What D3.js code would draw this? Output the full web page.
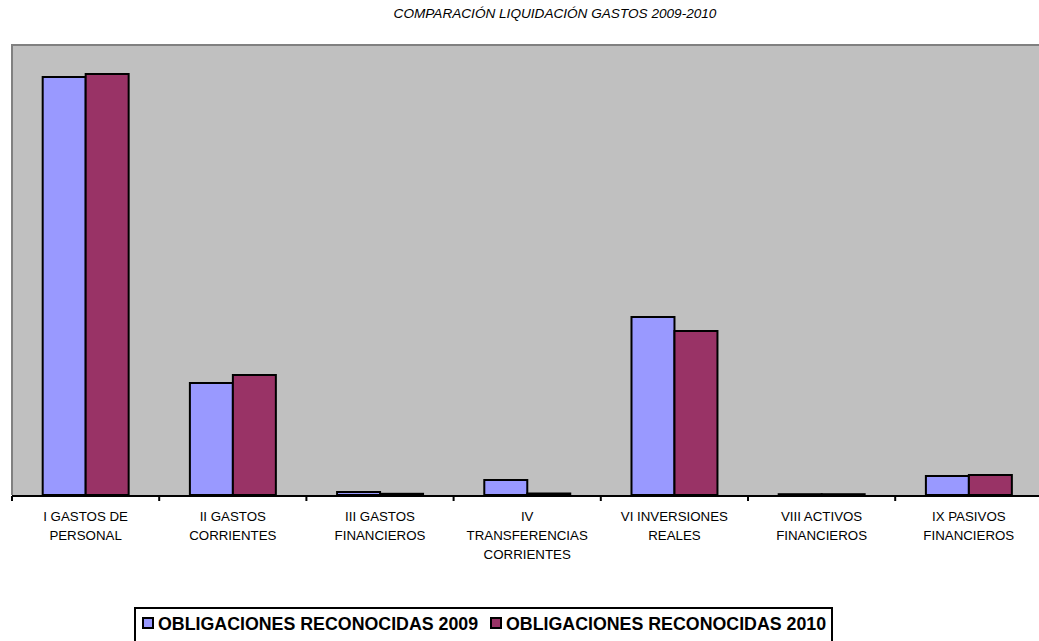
<!DOCTYPE html>
<html>
<head>
<meta charset="utf-8">
<script src="https://cdn.jsdelivr.net/npm/d3@7"></script>
<style>
  html, body { margin: 0; padding: 0; background: #ffffff; }
  svg { display: block; }
</style>
</head>
<body>
<div id="chart"></div>
<script>
// ---- data ----
const categories = [
  ["I GASTOS DE", "PERSONAL"],
  ["II GASTOS", "CORRIENTES"],
  ["III GASTOS", "FINANCIEROS"],
  ["IV", "TRANSFERENCIAS", "CORRIENTES"],
  ["VI INVERSIONES", "REALES"],
  ["VIII ACTIVOS", "FINANCIEROS"],
  ["IX PASIVOS", "FINANCIEROS"]
];
const seriesNames = ["OBLIGACIONES RECONOCIDAS 2009", "OBLIGACIONES RECONOCIDAS 2010"];
const values2009 = [4180, 1120, 30, 150, 1780, 8, 190];
const values2010 = [4210, 1200, 12, 15, 1640, 8, 200];
const seriesColors = ["#9999FF", "#993366"];
const yMax = 4500;
const titleText = "COMPARACIÓN LIQUIDACIÓN GASTOS 2009-2010";

// ---- layout ----
const W = 1039, H = 641;
const plot = { left: 12, top: 45, right: 1042.4, bottom: 495 };

const svg = d3.select("#chart").append("svg")
  .attr("width", W).attr("height", H)
  .style("font-family", "'Liberation Sans', Arial, sans-serif");

const catIdx = categories.map((d, i) => i);
const x = d3.scaleBand().domain(catIdx).range([plot.left, plot.right]).padding(0);
const bw = x.bandwidth();
const xSub = d3.scaleBand().domain([0, 1]).range([bw * 0.2085, bw * 0.7925]).padding(0);
const y = d3.scaleLinear().domain([0, yMax]).range([plot.bottom, plot.top]);

// plot background
svg.append("rect")
  .attr("x", plot.left).attr("y", plot.top)
  .attr("width", plot.right - plot.left).attr("height", plot.bottom - plot.top)
  .attr("fill", "#C0C0C0");
// gray frame top/left
svg.append("path")
  .attr("d", `M${plot.left},${plot.bottom}V${plot.top}H${W + 5}`)
  .attr("fill", "none").attr("stroke", "#808080").attr("stroke-width", 2);

// title
svg.append("text")
  .attr("x", 555).attr("y", 18)
  .attr("text-anchor", "middle")
  .attr("font-size", "13.6px").attr("font-style", "italic").attr("fill", "#000")
  .text(titleText);

// bars
const data = catIdx.map(i => [values2009[i], values2010[i]]);
const groups = svg.append("g").selectAll("g").data(data).join("g")
  .attr("transform", (d, i) => `translate(${x(i)},0)`);
groups.selectAll("rect").data(d => d.map((v, s) => ({ v, s }))).join("rect")
  .attr("x", d => xSub(d.s))
  .attr("width", xSub.bandwidth())
  .attr("y", d => y(d.v))
  .attr("height", d => y(0) - y(d.v))
  .attr("fill", d => seriesColors[d.s])
  .attr("stroke", "#000").attr("stroke-width", 2);

// x axis
const axisG = svg.append("g").attr("transform", `translate(0,${plot.bottom + 1})`);
axisG.append("line")
  .attr("x1", plot.left).attr("x2", plot.right)
  .attr("stroke", "#000").attr("stroke-width", 2);
const tickPos = catIdx.map(i => x(i)).concat([plot.right]);
axisG.selectAll("line.tick").data(tickPos).join("line")
  .attr("class", "tick")
  .attr("x1", d => d).attr("x2", d => d)
  .attr("y1", 0).attr("y2", 5)
  .attr("stroke", "#000").attr("stroke-width", 2);

// category labels
const labels = svg.append("g").selectAll("text").data(categories).join("text")
  .attr("x", (d, i) => x(i) + bw / 2)
  .attr("y", 520.5)
  .attr("text-anchor", "middle")
  .attr("font-size", "13.3px").attr("fill", "#000");
labels.selectAll("tspan").data(d => d).join("tspan")
  .attr("x", function () { return d3.select(this.parentNode).attr("x"); })
  .attr("dy", (d, j) => j === 0 ? 0 : 19.4)
  .text(d => d);

// legend
const leg = svg.append("g");
leg.append("rect")
  .attr("x", 135).attr("y", 608)
  .attr("width", 697).attr("height", 60)
  .attr("fill", "#fff").attr("stroke", "#000").attr("stroke-width", 2);
const legX = [143, 491];
seriesNames.forEach((name, s) => {
  leg.append("rect")
    .attr("x", legX[s]).attr("y", 618)
    .attr("width", 10).attr("height", 10)
    .attr("fill", seriesColors[s]).attr("stroke", "#000").attr("stroke-width", 2);
  leg.append("text")
    .attr("x", legX[s] + 15).attr("y", 630)
    .attr("font-size", "17.8px").attr("font-weight", "bold").attr("fill", "#000")
    .text(name);
});
</script>
</body>
</html>
